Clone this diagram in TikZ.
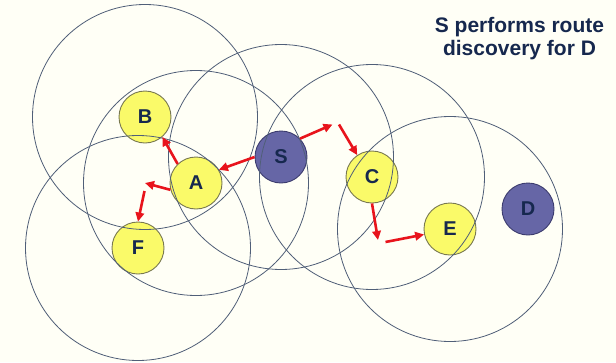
\documentclass[tikz,border=0pt]{standalone}
\usepackage{fontspec}
\setmainfont{Liberation Sans}
\usepackage{xcolor}
\usetikzlibrary{arrows.meta,positioning}

\definecolor{bgcream}{RGB}{255,255,246}
\definecolor{nodeyellow}{RGB}{250,250,105}
\definecolor{yellowedge}{RGB}{120,120,80}
\definecolor{nodepurple}{RGB}{102,102,166}
\definecolor{purpleedge}{RGB}{60,60,110}
\definecolor{labelnavy}{RGB}{22,40,78}
\definecolor{rangeline}{RGB}{80,95,120}
\definecolor{rreqred}{RGB}{232,20,28}

\begin{document}
\begin{tikzpicture}[
    x=1pt, y=-1pt,
    host/.style={circle, minimum size=52pt, inner sep=0pt, fill=nodeyellow, draw=yellowedge, line width=0.9pt, font=\fontsize{20}{22}\selectfont\bfseries, text=labelnavy},
    endhost/.style={host, fill=nodepurple, draw=purpleedge},
    txrange/.style={draw=rangeline, line width=0.8pt},
    rreq/.style={-{Triangle[length=9pt,width=8.5pt]}, line width=2.6pt, draw=rreqred}
]
    \fill[bgcream] (0,0) rectangle (616,362);
    \useasboundingbox (0,0) rectangle (616,362);

    % Hosts
    \node[host] (B) at (145,117) {B};
    \node[host] (A) at (196,183) {A};
    \node[host] (F) at (138,248) {F};
    \node[endhost] (S) at (281,157) {S};
    \node[host] (C) at (372,177) {C};
    \node[host] (E) at (450,229) {E};
    \node[endhost] (D) at (528,209) {D};

    % Transmission ranges
    \foreach \h in {B,A,F,S,C,E}
        \draw[txrange] (\h) circle[radius=112.5];

    % Title
    \node[font=\fontsize{21}{23}\selectfont\bfseries, text=labelnavy, align=center] (title) at (519.5,39) {S performs route\\discovery for D};

    % Broadcast of the route request
    \coordinate (aleft) at (145,183);
    \coordinate (fup) at (144.5,191);
    \coordinate (sright) at (332.5,124.5);
    \coordinate (cup) at (339,124.5);
    \coordinate (cdown) at (378,240);
    \coordinate (eleft) at (385.5,242);

    \draw[rreq] (S.180) -- (A.30);
    \draw[rreq] (A.134) -- (B.311);
    \draw[rreq] (A.195) -- (aleft);
    \draw[rreq] (fup) -- (F.north);
    \draw[rreq] (S.44) -- (sright);
    \draw[rreq] (cup) -- (C.124);
    \draw[rreq] (C.south) -- (cdown);
    \draw[rreq] (eleft) -- (E.192);

\end{tikzpicture}
\end{document}
